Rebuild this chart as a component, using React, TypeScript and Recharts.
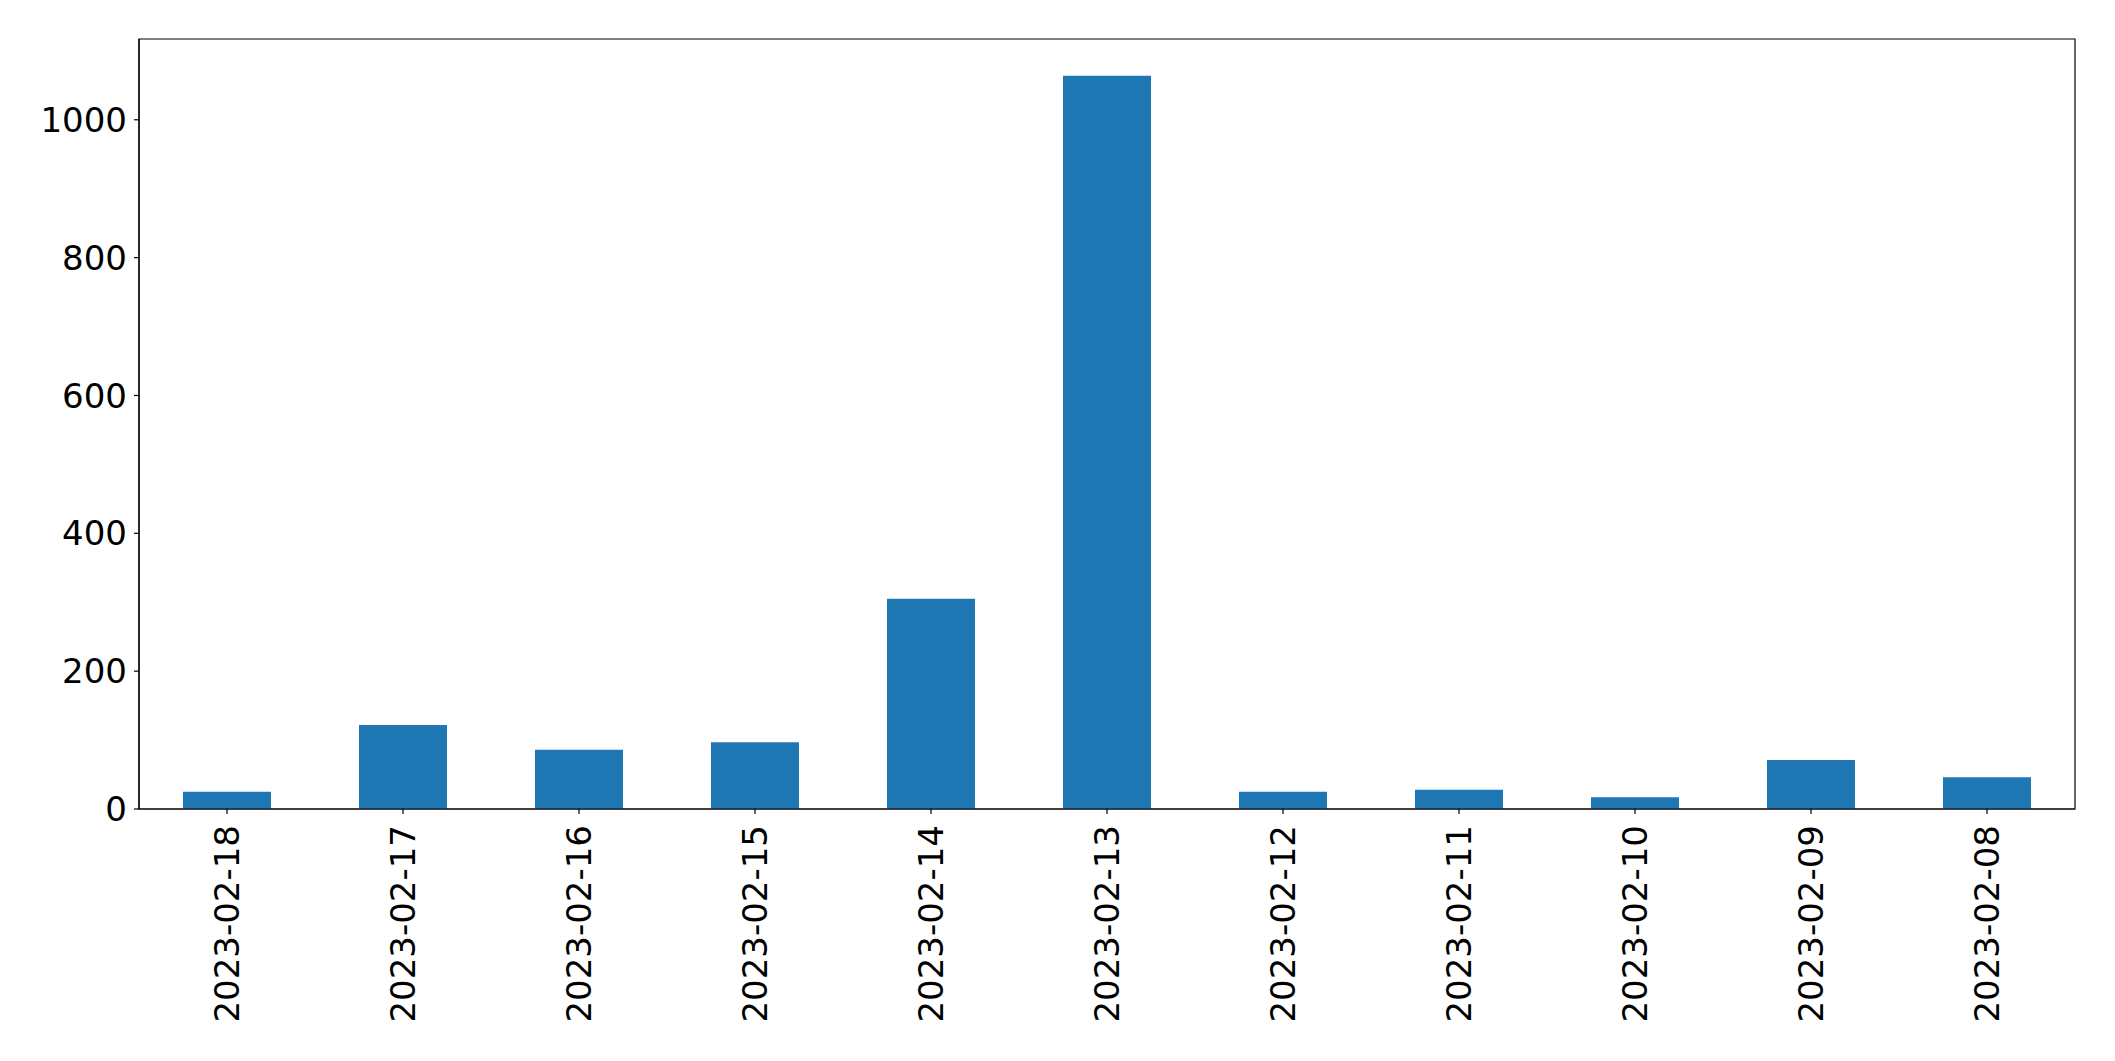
import { BarChart, Bar, XAxis, YAxis, ReferenceArea } from "recharts"

const dates = [
  "2023-02-18",
  "2023-02-17",
  "2023-02-16",
  "2023-02-15",
  "2023-02-14",
  "2023-02-13",
  "2023-02-12",
  "2023-02-11",
  "2023-02-10",
  "2023-02-09",
  "2023-02-08",
]
const counts = [25, 122, 86, 97, 305, 1064, 25, 28, 17, 71, 46]
const yTicks = [0, 200, 400, 600, 800, 1000]

const data = dates.map((date, i) => ({ date, count: counts[i] }))

const FONT = "'DejaVu Sans', sans-serif"

const DateTick = ({ x, y, payload }: any) => (
  <text
    x={x}
    y={y}
    transform={`rotate(-90, ${x}, ${y})`}
    textAnchor="end"
    dy="0.35em"
    fontSize={34}
    fontFamily={FONT}
    fill="#000"
  >
    {payload.value}
  </text>
)

export default function App() {
  const ymax = Math.max(...counts) * 1.05

  return (
    <div style={{ position: "fixed", left: 0, top: 0, width: 2115, height: 1061, background: "#fff" }}>
      <BarChart
        width={2115}
        height={1061}
        data={data}
        margin={{ top: 39, right: 40, left: 0, bottom: 0 }}
      >
        <XAxis
          dataKey="date"
          height={252}
          interval={0}
          tick={<DateTick />}
          tickSize={5}
          tickMargin={11}
          axisLine={{ stroke: "#000", strokeWidth: 1.2 }}
          tickLine={{ stroke: "#000", strokeWidth: 1.2 }}
        />
        <YAxis
          width={139}
          domain={[0, ymax]}
          ticks={yTicks}
          tickSize={5}
          tickMargin={7}
          tick={{ fontSize: 34, fontFamily: FONT, fill: "#000" }}
          axisLine={{ stroke: "#000", strokeWidth: 1.2 }}
          tickLine={{ stroke: "#000", strokeWidth: 1.2 }}
        />
        <Bar dataKey="count" fill="#1f77b4" barSize={88} isAnimationActive={false} />
        {/* frame around the plot area */}
        <ReferenceArea
          y1={0}
          y2={ymax}
          fill="none"
          fillOpacity={0}
          stroke="#000"
          strokeWidth={1.2}
          ifOverflow="visible"
        />
      </BarChart>
    </div>
  )
}
